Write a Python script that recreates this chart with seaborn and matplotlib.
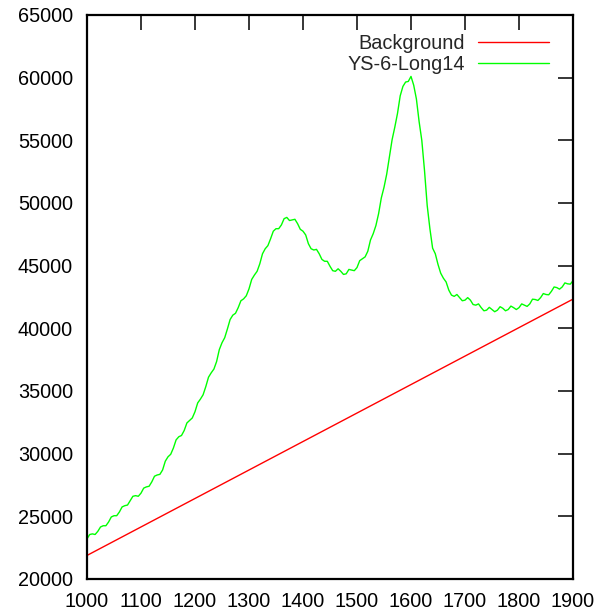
import matplotlib
matplotlib.use("Agg")
import matplotlib.pyplot as plt
import seaborn as sns
import pandas as pd
import numpy as np

# Data (wavenumber step 5)
wavenumber = list(range(1000, 1901, 5))
sample_ys6 = [
    23200, 23550, 23600, 23550, 23800, 24150, 24250, 24250, 24550, 24950,
    25050, 25050, 25350, 25750, 25850, 25900, 26250, 26600, 26650, 26600,
    26850, 27250, 27350, 27400, 27750, 28200, 28300, 28350, 28700, 29400,
    29750, 29950, 30450, 31100, 31350, 31450, 31850, 32450, 32650, 32850,
    33350, 34050, 34350, 34700, 35350, 36100, 36450, 36750, 37350, 38300,
    38850, 39250, 39950, 40700, 41050, 41200, 41650, 42200, 42350, 42600,
    43150, 43900, 44250, 44550, 45150, 45950, 46350, 46600, 47150, 47750,
    47950, 47950, 48250, 48750, 48850, 48600, 48650, 48700, 48350, 47900,
    47750, 47450, 46750, 46350, 46250, 46300, 45950, 45500, 45350, 45350,
    44950, 44600, 44550, 44750, 44550, 44300, 44350, 44700, 44650, 44600,
    44850, 45400, 45550, 45700, 46150, 47050, 47550, 48200, 49150, 50400,
    51250, 52300, 53650, 55050, 56050, 57150, 58550, 59300, 59650, 59700,
    60100, 59400, 58300, 56500, 55000, 52600, 49800, 47950, 46400, 45950,
    45100, 44400, 44000, 43700, 43050, 42650, 42550, 42700, 42450, 42200,
    42250, 42450, 42250, 41900, 41850, 41950, 41650, 41400, 41450, 41675,
    41500, 41325, 41450, 41725, 41600, 41400, 41500, 41775, 41650, 41500,
    41650, 41950, 41850, 41750, 41950, 42325, 42300, 42225, 42450, 42775,
    42700, 42675, 42950, 43300, 43250, 43125, 43300, 43625, 43550, 43525,
    43800]
bg_x = [1000, 1900]
bg_y = [21880, 42330]

sns.set_style("white")
plt.rcParams['font.family'] = ['Liberation Sans', 'DejaVu Sans']

fig = plt.figure(figsize=(6.04, 6.15), dpi=100)
ax = fig.add_axes([87/604, 36/615, (573-87)/604, (579-15)/615])

df_bg = pd.DataFrame({"x": bg_x, "y": bg_y})
df_s = pd.DataFrame({"x": wavenumber, "y": sample_ys6})
sns.lineplot(data=df_bg, x="x", y="y", ax=ax, color="#ff0000", linewidth=1.0, label="Background")
sns.lineplot(data=df_s, x="x", y="y", ax=ax, color="#00ff00", linewidth=1.0, label="YS-6-Long14")

ax.set_xlim(1000, 1900)
ax.set_ylim(20000, 65000)
ax.set_xticks(np.arange(1000, 1901, 100))
ax.set_yticks(np.arange(20000, 65001, 5000))
ax.set_xlabel("")
ax.set_ylabel("")
for s in ax.spines.values():
    s.set_visible(True)
    s.set_linewidth(1.6)
    s.set_color("black")
ax.tick_params(axis="both", which="major", direction="in", length=11, width=1.1,
               top=True, right=True, labelsize=14.3, colors="black", pad=9.5)
ax.tick_params(axis="y", pad=10)

leg = ax.legend(loc="upper right", bbox_to_anchor=(0.966, 0.9805), frameon=False,
                markerfirst=False, fontsize=14.3, handlelength=3.55, handletextpad=0.65,
                labelspacing=0.1, borderaxespad=0.0)

fig.savefig("out.png", dpi=100)
